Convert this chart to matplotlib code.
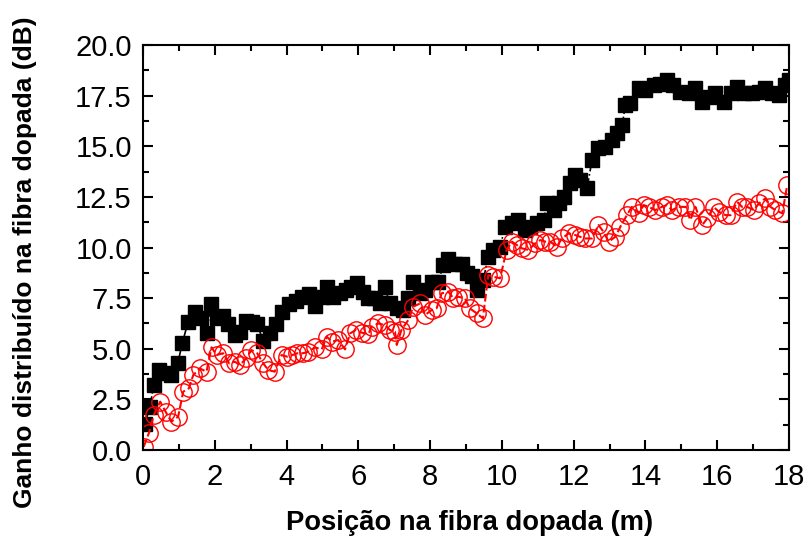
import numpy as np
import matplotlib.pyplot as plt
from matplotlib.ticker import MultipleLocator

# black squares (upper curve)
x_black = [0.05, 0.19, 0.30, 0.46, 0.63, 0.79, 0.97, 1.10, 1.25, 1.44,
           1.63, 1.77, 1.90, 2.05, 2.23, 2.37, 2.56, 2.70, 2.88, 3.04,
           3.18, 3.35, 3.53, 3.70, 3.88, 4.06, 4.25, 4.44, 4.62, 4.80,
           4.98, 5.12, 5.30, 5.48, 5.66, 5.80, 5.95, 6.12, 6.28, 6.44,
           6.60, 6.74, 6.88, 7.07, 7.25, 7.39, 7.53, 7.72, 7.86, 8.04,
           8.23, 8.37, 8.51, 8.70, 8.88, 9.02, 9.16, 9.30, 9.48, 9.62,
           9.76, 9.95, 10.09, 10.28, 10.46, 10.65, 10.79, 10.97, 11.16, 11.25,
           11.44, 11.58, 11.72, 11.90, 12.04, 12.18, 12.37, 12.51, 12.69, 12.88,
           13.07, 13.20, 13.35, 13.44, 13.58, 13.81, 14.00, 14.23, 14.41, 14.60,
           14.78, 14.97, 15.20, 15.39, 15.58, 15.76, 15.95, 16.18, 16.37, 16.55,
           16.74, 16.97, 17.16, 17.34, 17.53, 17.71, 17.90, 18.00]
y_black = [1.30, 2.10, 3.20, 3.95, 3.80, 3.70, 4.30, 5.30, 6.30, 6.80,
           6.50, 5.80, 7.20, 6.50, 6.60, 6.20, 5.70, 5.85, 6.35, 6.30,
           6.20, 5.40, 5.80, 6.20, 6.80, 7.20, 7.35, 7.55, 7.70, 7.10,
           7.55, 8.07, 7.57, 7.74, 7.90, 8.07, 8.23, 7.80, 7.50, 7.50,
           7.24, 8.03, 7.24, 7.00, 6.90, 7.49, 8.31, 7.74, 7.90, 8.31,
           8.31, 9.14, 9.45, 9.20, 9.20, 8.75, 8.60, 7.90, 8.40, 9.55,
           9.90, 10.04, 11.03, 11.20, 11.36, 10.86, 11.03, 11.20, 11.36, 12.18,
           11.85, 12.18, 12.51, 13.17, 13.58, 13.33, 12.92, 14.32, 14.90, 14.98,
           15.31, 15.64, 16.05, 17.04, 17.12, 17.86, 17.78, 18.02, 18.10, 18.27,
           18.02, 17.69, 17.61, 17.86, 17.20, 17.45, 17.61, 17.20, 17.61, 17.94,
           17.61, 17.61, 17.69, 17.86, 17.61, 17.53, 18.02, 18.30]

# red open circles (lower curve)
x_red = [0.02, 0.17, 0.30, 0.48, 0.63, 0.79, 0.98, 1.12, 1.28, 1.40,
         1.58, 1.77, 1.91, 2.05, 2.23, 2.40, 2.56, 2.70, 2.88, 3.02,
         3.18, 3.35, 3.49, 3.67, 3.86, 4.02, 4.16, 4.30, 4.46, 4.60,
         4.79, 4.98, 5.12, 5.26, 5.44, 5.63, 5.77, 5.93, 6.09, 6.28,
         6.37, 6.56, 6.74, 6.88, 7.02, 7.07, 7.20, 7.39, 7.53, 7.72,
         7.86, 8.04, 8.18, 8.32, 8.51, 8.65, 8.79, 8.97, 9.10, 9.30,
         9.47, 9.62, 9.76, 9.95, 10.13, 10.28, 10.42, 10.56, 10.74, 10.93,
         11.07, 11.21, 11.35, 11.53, 11.67, 11.86, 12.04, 12.18, 12.32, 12.51,
         12.69, 12.83, 12.97, 13.16, 13.30, 13.48, 13.62, 13.81, 13.95, 14.09,
         14.27, 14.46, 14.60, 14.74, 14.92, 15.11, 15.25, 15.39, 15.58, 15.72,
         15.90, 16.04, 16.23, 16.37, 16.55, 16.69, 16.83, 17.02, 17.16, 17.34,
         17.48, 17.62, 17.81, 17.95]
y_red = [0.16, 0.86, 1.73, 2.39, 1.89, 1.40, 1.65, 2.88, 3.05, 3.70,
         4.03, 3.87, 5.07, 4.69, 4.78, 4.28, 4.36, 4.20, 4.53, 4.94,
         4.78, 4.28, 3.95, 3.87, 4.69, 4.61, 4.69, 4.78, 4.78, 4.85,
         5.07, 4.97, 5.60, 5.35, 5.43, 4.97, 5.76, 5.93, 5.80, 5.72,
         6.09, 6.25, 6.17, 5.93, 5.84, 5.19, 5.93, 6.42, 7.08, 7.24,
         6.67, 6.91, 7.00, 7.74, 7.82, 7.49, 7.57, 7.49, 7.00, 6.75,
         6.50, 8.64, 8.56, 8.48, 9.88, 10.29, 10.12, 9.96, 9.88, 10.21,
         10.37, 10.29, 10.29, 10.04, 10.45, 10.70, 10.62, 10.53, 10.45, 10.45,
         11.11, 10.78, 10.29, 10.53, 11.03, 11.60, 12.01, 11.69, 12.10, 12.01,
         11.85, 12.01, 12.10, 11.85, 12.01, 12.01, 11.36, 12.01, 11.11, 11.44,
         12.01, 11.77, 11.60, 11.60, 12.26, 12.01, 12.01, 11.85, 12.18, 12.43,
         12.01, 11.85, 11.69, 13.09]

plt.rcParams['font.family'] = ['Liberation Sans', 'DejaVu Sans']

fig = plt.figure(figsize=(8.06, 5.37), dpi=100)
ax = fig.add_axes([0.1774, 0.162, 0.8016, 0.754])

ax.plot(x_black, y_black, color='black', linestyle='-.', linewidth=1.2,
        marker='s', markersize=10.5, markerfacecolor='black', markeredgecolor='black')
ax.plot(x_red, y_red, color='red', linestyle='--', linewidth=1.5,
        marker='o', markersize=12.5, markerfacecolor='none', markeredgecolor='red',
        markeredgewidth=1.0)

ax.set_xlim(0, 18)
ax.set_ylim(0, 20)
ax.xaxis.set_major_locator(MultipleLocator(2))
ax.xaxis.set_minor_locator(MultipleLocator(1))
ax.yaxis.set_major_locator(MultipleLocator(2.5))
ax.yaxis.set_minor_locator(MultipleLocator(1.25))
ax.yaxis.set_major_formatter(plt.FormatStrFormatter('%.1f'))

ax.tick_params(which='both', direction='in', top=True, right=True, width=1.5,
               labelsize=21)
ax.tick_params(axis='x', pad=9)
ax.tick_params(axis='y', pad=8)
ax.tick_params(which='major', length=7.5)
ax.tick_params(which='minor', length=4)
for s in ax.spines.values():
    s.set_linewidth(1.5)

ax.set_xlabel('Posição na fibra dopada (m)', fontsize=19.7, fontweight='bold')
ax.set_ylabel('Ganho distribuído na fibra dopada (dB)', fontsize=19, fontweight='bold')
ax.xaxis.set_label_coords(0.505, -0.148)
ax.yaxis.set_label_coords(-0.164, 0.463)

fig.savefig('out.png', dpi=100)
